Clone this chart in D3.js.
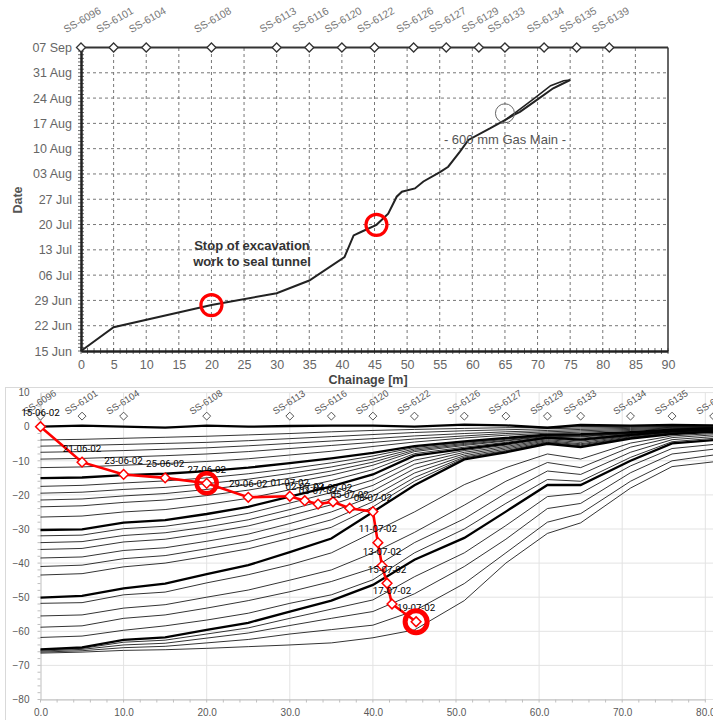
<!DOCTYPE html>
<html>
<head>
<meta charset="utf-8">
<script src="https://cdn.jsdelivr.net/npm/d3@7"></script>
<style>
  body { margin: 0; background: #fff; }
  svg { display: block; font-family: "Liberation Sans", Arial, sans-serif; }
</style>
</head>
<body>
<script>
// monitoring stations along the tunnel
const stationNames = ["SS-6096","SS-6101","SS-6104","SS-6108","SS-6113","SS-6116","SS-6120","SS-6122",
                      "SS-6126","SS-6127","SS-6129","SS-6133","SS-6134","SS-6135","SS-6139"];
const stationChainage = [0,5,10,20,30,35,40,45,51,56,61,65,71,76,81];

// top chart: face progress (chainage vs date)
const progressChainage = [0,5,20,30,35,40.4,41.8,43,45.3,47.1,48.4,49.2,51.2,52.5,55.1,56.3,58.1,59.4,62.7,65,66.3,67.3,69.9,72.4,75];
const progressTime = ["2002-06-15 00:00","2002-06-21 14:00","2002-06-27 17:00","2002-07-01 00:00","2002-07-04 12:00",
  "2002-07-11 00:00","2002-07-17 00:00","2002-07-18 00:00","2002-07-19 22:00","2002-07-23 00:00","2002-07-27 17:00",
  "2002-07-29 02:00","2002-07-30 00:00","2002-07-31 22:00","2002-08-03 14:00","2002-08-05 00:00","2002-08-09 05:00",
  "2002-08-12 10:00","2002-08-15 14:00","2002-08-17 22:00","2002-08-19 07:00","2002-08-20 05:00","2002-08-23 12:00",
  "2002-08-26 17:00","2002-08-29 00:00"];
const secondChainage = [65,66.6,69.5,72,74,75];
const secondTime = ["2002-08-17 22:00","2002-08-20 00:00","2002-08-23 22:00","2002-08-27 10:00","2002-08-28 19:00","2002-08-29 00:00"];
const markedChainage = [20,45.3];
const markedTime = ["2002-06-27 17:00","2002-07-19 22:00"];
const gasMainChainage = 65, gasMainTime = "2002-08-19 19:00";

// bottom chart: settlement profiles
const profileChainage = [0,5,10,15,20,25,30,35,40,45,51,56,61,65,71,76,81];
const settlementProfiles = [
  [0,0.3,0,-0.3,0.3,0,0.2,0.3,0.3,0,0.6,0.4,-0.3,0.5,0.3,0.5,0.4],
  [-3.9,-3.7,-3.4,-3.1,-2.8,-2.4,-2,-1.5,-1.1,-0.8,-0.5,-0.3,-0.2,0,0.1,0.2,0.2],
  [-5.7,-5.5,-5.2,-4.9,-4.6,-4.1,-3.5,-2.9,-2.3,-1.7,-1.2,-0.9,-0.6,-0.4,-0.2,0,0],
  [-7.5,-7.3,-7,-6.6,-6.2,-5.6,-4.9,-4.2,-3.5,-2.7,-2,-1.5,-1.1,-0.8,-0.5,-0.2,-0.1],
  [-9.5,-9.3,-8.9,-8.5,-8,-7.3,-6.4,-5.5,-4.6,-3.6,-2.7,-2,-1.5,-1.2,-0.8,-0.4,-0.2],
  [-12,-11.8,-11.3,-10.8,-10.2,-9.4,-8.3,-7.2,-5.8,-4.5,-3.3,-2.5,-1.9,-1.6,-1.1,-0.6,-0.3],
  [-15.1,-14.9,-14.2,-13.8,-13,-12,-10.7,-9.3,-7.7,-5.7,-4.3,-3.3,-2.3,-2.2,-1.6,-0.9,-0.5],
  [-17.5,-17.2,-16.5,-15.9,-15,-13.8,-12.3,-10.6,-8.6,-6.1,-4.6,-3.5,-2.4,-2.4,-1.7,-1,-0.5],
  [-19.5,-19.2,-18.4,-17.8,-16.7,-15.4,-13.7,-11.8,-9.5,-6.5,-4.9,-3.7,-2.5,-2.6,-1.8,-1,-0.6],
  [-21.5,-21.2,-20.3,-19.6,-18.4,-17,-15.1,-13,-10.4,-6.9,-5.2,-4,-2.6,-2.8,-1.9,-1.1,-0.6],
  [-23.5,-23.2,-22.2,-21.5,-20.2,-18.6,-16.5,-14.2,-11.3,-7.3,-5.5,-4.2,-2.8,-3,-2,-1.2,-0.7],
  [-26.5,-26.2,-25,-24.3,-22.8,-21,-18.5,-15.8,-12.6,-7.9,-6,-4.6,-3,-3.4,-2.2,-1.3,-0.7],
  [-30.3,-30.1,-28.1,-27.4,-25.6,-23.5,-20.5,-17.5,-14,-8.5,-6.5,-5,-3.2,-3.8,-2.4,-1.4,-0.8],
  [-32,-31.8,-29.9,-29.2,-27.5,-25.4,-22.4,-19.3,-15.6,-9.8,-7,-5.4,-3.5,-4.2,-2.6,-1.5,-0.9],
  [-34,-33.7,-31.9,-31.1,-29.4,-27.3,-24.3,-21.1,-17.2,-11,-7.5,-5.8,-3.8,-4.6,-2.8,-1.6,-1],
  [-36,-35.7,-33.8,-33,-31.2,-29.1,-26.1,-22.9,-18.8,-12.3,-8,-6.2,-4.1,-5,-3,-1.8,-1.1],
  [-38.5,-38.2,-36.3,-35.5,-33.6,-31.5,-28.4,-25,-20.4,-13.6,-8.5,-6.6,-4.4,-5.3,-3.2,-1.9,-1.2],
  [-41,-40.6,-38.7,-37.8,-35.8,-33.7,-30.6,-27.3,-22,-14.9,-8.9,-7,-4.6,-5.6,-3.3,-2,-1.3],
  [-43.5,-43.1,-41.1,-40,-38,-35.8,-32.7,-29.5,-23.5,-16,-9.2,-7.2,-4.8,-5.8,-3.4,-2.1,-1.4],
  [-50.1,-49.6,-47.4,-46,-43.2,-40.6,-36.8,-32.8,-25,-17.2,-9.6,-7.5,-5,-6,-3.5,-2.2,-1.5],
  [-51.8,-51.6,-49.3,-48.5,-45.8,-43.4,-40.5,-37,-31,-25,-17,-12,-8,-9.5,-4.8,-2.7,-2],
  [-55.5,-55.2,-53.2,-52.2,-50,-47.9,-45,-42,-37,-31,-23,-16,-10.5,-12,-6,-3.2,-2.4],
  [-58.8,-58.4,-56.2,-55.2,-53.2,-51,-48.4,-45.4,-41.5,-34,-27,-19.5,-13,-14,-7.5,-3.8,-2.9],
  [-61.8,-61.4,-59.7,-58.4,-56.7,-54.7,-51.8,-49.3,-44.9,-37,-30,-22.5,-15.5,-16,-9,-4.4,-3.4],
  [-65.3,-64.7,-62.5,-61.8,-59.6,-57.5,-54.2,-51,-46.4,-39,-32.6,-24.9,-17.1,-17.1,-10,-4.9,-3.9],
  [-65.5,-65,-63.2,-62.6,-60.8,-59,-56.2,-53.5,-50.8,-44,-37,-29,-20.5,-19.5,-11.5,-6.4,-5.2],
  [-65.8,-65.3,-64,-63.5,-62,-60.5,-58.3,-56.2,-54.2,-49,-41,-33,-24,-22.5,-13.5,-8,-6.6],
  [-66.1,-65.7,-64.8,-64.4,-63.4,-62.4,-60.8,-59.5,-58.2,-54,-46,-37,-28,-25.5,-16,-10,-8.3],
  [-66.4,-66.1,-65.6,-65.4,-65,-64.5,-64,-63.4,-61.9,-59.6,-51,-40,-31.3,-28.2,-18,-11.7,-10.3]
];
const weeklyProfiles = [0,6,12,19,24];

// tunnel face readings
const readingLabels = ["15-06-02","21-06-02","23-06-02","25-06-02","27-06-02","29-06-02","01-07-02","02-07-02",
  "03-07-02","04-07-02","05-07-02","08-07-02","11-07-02","13-07-02","15-07-02","17-07-02","19-07-02"];
const faceChainage = [0,5,10,15,20,25,30,31.8,33.4,35.2,37.2,40,40.6,41.1,41.7,42.3,45.2];
const faceSettlement = [0,-10.4,-14,-15,-16.6,-20.7,-20.4,-21.7,-22.7,-22,-23.9,-24.9,-34,-40.8,-45.9,-52,-57.2];
const circledReadings = ["27-06-02","19-07-02"];

const W = 713, H = 720;
const svg = d3.select("body").append("svg").attr("width", W).attr("height", H);

// ================= top chart =================
const parse = d3.timeParse("%Y-%m-%d %H:%M");
const x1 = d3.scaleLinear().domain([0, 90]).range([81, 668]);
const y1 = d3.scaleTime().domain([parse("2002-06-15 00:00"), parse("2002-09-07 00:00")]).range([351, 47.5]);
const weeks = d3.timeSaturday.range(parse("2002-06-15 00:00"), parse("2002-09-07 01:00"));
const gTop = svg.append("g");

// dashed grid
gTop.append("g").selectAll("line").data(d3.range(5, 90, 5)).join("line")
  .attr("x1", d => x1(d)).attr("x2", d => x1(d)).attr("y1", y1.range()[0]).attr("y2", y1.range()[1])
  .attr("stroke", "#777").attr("stroke-width", 1).attr("stroke-dasharray", "3,3");
gTop.append("g").selectAll("line").data(weeks.slice(1, -1)).join("line")
  .attr("x1", x1(0)).attr("x2", x1(90)).attr("y1", d => y1(d)).attr("y2", d => y1(d))
  .attr("stroke", "#777").attr("stroke-width", 1).attr("stroke-dasharray", "3,3");

// right frame
gTop.append("line").attr("x1", x1(90)).attr("x2", x1(90)).attr("y1", y1.range()[1]).attr("y2", y1.range()[0])
  .attr("stroke", "#333").attr("stroke-width", 1.5);

// minor ticks
gTop.append("g").selectAll("line").data(d3.timeDay.range(y1.domain()[0], y1.domain()[1])).join("line")
  .attr("x1", x1(0) - 3).attr("x2", x1(0) + 3).attr("y1", d => y1(d)).attr("y2", d => y1(d))
  .attr("stroke", "#444").attr("stroke-width", 0.8);
gTop.append("g").selectAll("line").data(d3.range(0, 91, 1)).join("line")
  .attr("x1", d => x1(d)).attr("x2", d => x1(d)).attr("y1", y1.range()[0] - 3).attr("y2", y1.range()[0] + 3)
  .attr("stroke", "#444").attr("stroke-width", 0.8);

// axes
const yAxis1 = gTop.append("g").attr("transform", `translate(${x1(0)},0)`)
  .call(d3.axisLeft(y1).tickValues(weeks).tickFormat(d3.timeFormat("%d %b")).tickSize(0).tickPadding(9));
const xAxis1 = gTop.append("g").attr("transform", `translate(0,${y1.range()[0]})`)
  .call(d3.axisBottom(x1).tickValues(d3.range(0, 91, 5)).tickSize(0).tickPadding(9));
[yAxis1, xAxis1].forEach(a => {
  a.select(".domain").attr("stroke", "#222").attr("stroke-width", 2.5);
  a.selectAll("text").attr("fill", "#666").attr("font-size", 12.5).attr("font-family", "Liberation Sans, Arial, sans-serif");
});
gTop.append("text").attr("transform", "translate(22,200) rotate(-90)").attr("text-anchor", "middle")
  .attr("font-size", 12.5).attr("font-weight", "bold").attr("fill", "#555").text("Date");
gTop.append("text").attr("x", 368).attr("y", 384).attr("text-anchor", "middle")
  .attr("font-size", 12.5).attr("font-weight", "bold").attr("fill", "#444").text("Chainage  [m]");

// top station line with diamonds
gTop.append("line").attr("x1", x1(0)).attr("x2", x1(90)).attr("y1", y1.range()[1]).attr("y2", y1.range()[1])
  .attr("stroke", "#333").attr("stroke-width", 2);
const diamond = d3.symbol().type(d3.symbolDiamond2);
gTop.append("g").selectAll("path").data(stationChainage).join("path")
  .attr("d", diamond.size(52)).attr("transform", d => `translate(${x1(d)},${y1.range()[1]})`)
  .attr("fill", "#fff").attr("stroke", "#333").attr("stroke-width", 1.3);
gTop.append("g").selectAll("text").data(stationNames).join("text")
  .attr("transform", (d, i) => `translate(${x1(stationChainage[i]) + 3},${23}) rotate(-30)`)
  .attr("text-anchor", "middle").attr("font-size", 10.5).attr("fill", "#777").text(d => d);

// progress curves
const line1 = d3.line().x(d => x1(d[0])).y(d => y1(parse(d[1])));
gTop.append("path").datum(d3.zip(secondChainage, secondTime)).attr("d", line1)
  .attr("fill", "none").attr("stroke", "#222").attr("stroke-width", 1.6);
gTop.append("path").datum(d3.zip(progressChainage, progressTime)).attr("d", line1)
  .attr("fill", "none").attr("stroke", "#222").attr("stroke-width", 2);

// annotations
gTop.append("circle").attr("cx", x1(gasMainChainage)).attr("cy", y1(parse(gasMainTime))).attr("r", 9.5)
  .attr("fill", "none").attr("stroke", "#666").attr("stroke-width", 1);
gTop.append("text").attr("x", x1(65)).attr("y", 143.5).attr("text-anchor", "middle")
  .attr("font-size", 13).attr("fill", "#555").text("- 600 mm Gas Main -");
gTop.append("text").attr("x", 252).attr("y", 249.5).attr("text-anchor", "middle")
  .attr("font-size", 13).attr("font-weight", "bold").attr("fill", "#333").text("Stop of excavation");
gTop.append("text").attr("x", 252).attr("y", 265.5).attr("text-anchor", "middle")
  .attr("font-size", 13).attr("font-weight", "bold").attr("fill", "#333").text("work to seal tunnel");
gTop.append("g").selectAll("circle").data(d3.zip(markedChainage, markedTime)).join("circle")
  .attr("cx", d => x1(d[0])).attr("cy", d => y1(parse(d[1]))).attr("r", 10.5)
  .attr("fill", "none").attr("stroke", "#f00").attr("stroke-width", 3.2);

// ================= bottom chart =================
const x2 = d3.scaleLinear().domain([0, 80]).range([40.5, 705.3]);
const y2 = d3.scaleLinear().domain([-80, 10]).range([699.5, 392.6]);
const gBot = svg.append("g");

gBot.append("rect").attr("x", 5.5).attr("y", 387.5).attr("width", 760).attr("height", 400)
  .attr("fill", "#fff").attr("stroke", "#d9d9d9");

gBot.append("g").selectAll("line").data(d3.range(-80, 11, 10)).join("line")
  .attr("x1", x2(0)).attr("x2", W).attr("y1", d => y2(d)).attr("y2", d => y2(d))
  .attr("stroke", "#e3e3e3").attr("stroke-width", 1);
gBot.append("g").selectAll("line").data(d3.range(10, 81, 10)).join("line")
  .attr("x1", d => x2(d)).attr("x2", d => x2(d)).attr("y1", y2(10)).attr("y2", y2(-80))
  .attr("stroke", "#e3e3e3").attr("stroke-width", 1);

const yAxis2 = gBot.append("g").attr("transform", `translate(${x2(0)},0)`)
  .call(d3.axisLeft(y2).tickValues(d3.range(-80, 11, 10)).tickSize(0).tickPadding(11));
const xAxis2 = gBot.append("g").attr("transform", `translate(0,${y2(-80)})`)
  .call(d3.axisBottom(x2).tickValues(d3.range(0, 81, 10)).tickFormat(d3.format(".1f")).tickSize(0).tickPadding(9));
[yAxis2, xAxis2].forEach(a => {
  a.select(".domain").attr("stroke", "#bfbfbf").attr("stroke-width", 1);
  a.selectAll("text").attr("fill", "#595959").attr("font-size", 10).attr("font-family", "Liberation Sans, Arial, sans-serif");
});
gBot.append("g").selectAll("line").data(d3.range(-80, 10, 2)).join("line")
  .attr("x1", x2(0) - 3).attr("x2", x2(0)).attr("y1", d => y2(d)).attr("y2", d => y2(d))
  .attr("stroke", "#bfbfbf");
gBot.append("g").selectAll("line").data(d3.range(0, 82, 2)).join("line")
  .attr("x1", d => x2(d)).attr("x2", d => x2(d)).attr("y1", y2(-80)).attr("y2", y2(-80) + 3)
  .attr("stroke", "#bfbfbf");

// station markers
gBot.append("g").selectAll("path").data(stationChainage).join("path")
  .attr("d", diamond.size(40)).attr("transform", d => `translate(${x2(d)},${y2(3.1)})`)
  .attr("fill", "#fff").attr("stroke", "#555").attr("stroke-width", 1);
gBot.append("g").selectAll("text").data(stationNames).join("text")
  .attr("transform", (d, i) => `translate(${x2(stationChainage[i]) + 1},${405}) rotate(-33)`)
  .attr("text-anchor", "middle").attr("font-size", 9.5).attr("fill", "#555").text(d => d);

// settlement profiles
const line2 = d3.line().x(d => x2(d[0])).y(d => y2(d[1]));
gBot.append("g").selectAll("path").data(settlementProfiles).join("path")
  .attr("d", d => line2(d3.zip(profileChainage, d)))
  .attr("fill", "none").attr("stroke", "#000")
  .attr("stroke-width", (d, i) => weeklyProfiles.includes(i) ? 2.3 : 0.8);

// face readings
const face = d3.zip(faceChainage, faceSettlement);
gBot.append("path").datum(face).attr("d", line2)
  .attr("fill", "none").attr("stroke", "#f00").attr("stroke-width", 2.6);
gBot.append("g").selectAll("path").data(face).join("path")
  .attr("d", diamond.size(60)).attr("transform", d => `translate(${x2(d[0])},${y2(d[1])})`)
  .attr("fill", "#fff").attr("stroke", "#f00").attr("stroke-width", 1.5);
gBot.append("g").selectAll("text").data(readingLabels).join("text")
  .attr("x", (d, i) => x2(faceChainage[i])).attr("y", (d, i) => y2(faceSettlement[i]) - 10.5)
  .attr("text-anchor", "middle").attr("font-size", 9.8).attr("fill", "#000")
  .attr("font-family", "Liberation Sans Narrow, Roboto, sans-serif").text(d => d);
gBot.append("g").selectAll("circle").data(circledReadings).join("circle")
  .attr("cx", d => x2(faceChainage[readingLabels.indexOf(d)]))
  .attr("cy", d => y2(faceSettlement[readingLabels.indexOf(d)]))
  .attr("r", (d, i) => i ? 11 : 10).attr("fill", "none").attr("stroke", "#f00").attr("stroke-width", (d, i) => i ? 5 : 4.5);
</script>
</body>
</html>
